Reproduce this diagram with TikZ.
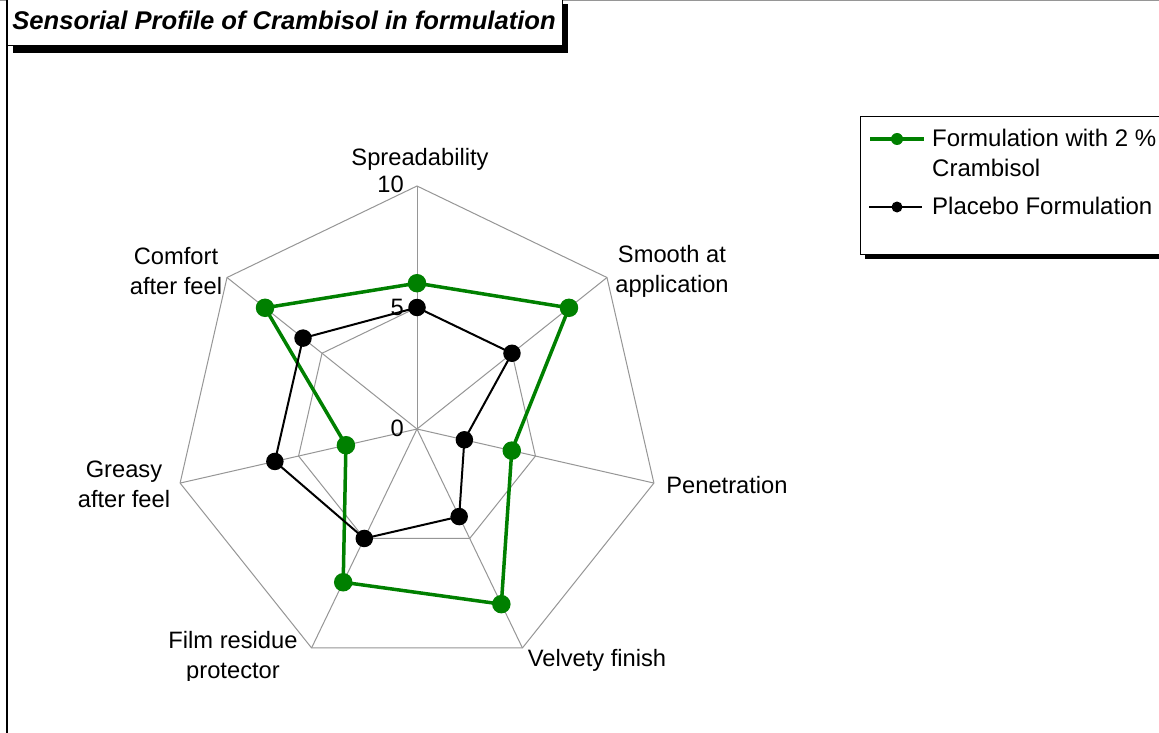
\documentclass[tikz,border=0pt]{standalone}
\usepackage{fontspec}
\setmainfont{Liberation Sans}
\definecolor{sgreen}{RGB}{0,128,0}
\definecolor{gridgray}{RGB}{150,150,150}
\begin{document}
\begin{tikzpicture}[x=1pt,y=-1pt,
  lbl/.style={font=\fontsize{23.7}{30}\selectfont, inner sep=0pt, align=center},
  leglbl/.style={font=\fontsize{24}{30}\selectfont, inner sep=0pt, align=left, anchor=west},
  gridline/.style={draw=gridgray, line width=1pt},
  gline/.style={draw=sgreen, line width=3.5pt, line join=round},
  bline/.style={draw=black, line width=2pt, line join=round},
  gdot/.style={circle, fill=sgreen, minimum size=18.5pt, inner sep=0pt},
  bdot/.style={circle, fill=black, minimum size=17.5pt, inner sep=0pt},
  lgdot/.style={circle, fill=sgreen, minimum size=12pt, inner sep=0pt},
  lbdot/.style={circle, fill=black, minimum size=11pt, inner sep=0pt},
]
\useasboundingbox (0,0) rectangle (1159,733);
\fill[white] (0,0) rectangle (1159,733);
% chart frame
\draw[gridgray, line width=1pt] (0,0.5) -- (1159,0.5);
\draw[black, line width=1.5pt] (7,0) -- (7,733);

% grid
\coordinate (c) at (417,429);
\foreach \k in {0,...,6} {
  \path (c) ++(\k*360/7-90:243) coordinate (a\k);
  \path (c) ++(\k*360/7-90:121.5) coordinate (h\k);
}
\foreach \k in {0,...,6} { \draw[gridline] (c) -- (a\k); }
\draw[gridline] (a0)--(a1)--(a2)--(a3)--(a4)--(a5)--(a6)--cycle;
\draw[gridline] (h0)--(h1)--(h2)--(h3)--(h4)--(h5)--(h6)--cycle;

% data
\foreach \v [count=\i from 0] in {6,8,4,8,7,3,8} {
  \path (c) ++(\i*360/7-90:\v*24.3) coordinate (g\i);
}
\foreach \v [count=\i from 0] in {5,5,2,4,5,6,6} {
  \path (c) ++(\i*360/7-90:\v*24.3) coordinate (b\i);
}
\draw[gline] (g0)--(g1)--(g2)--(g3)--(g4)--(g5)--(g6)--cycle;
\foreach \i in {0,...,6} { \node[gdot] (gd\i) at (g\i) {}; }
\draw[bline] (b0)--(b1)--(b2)--(b3)--(b4)--(b5)--(b6)--cycle;
\foreach \i in {0,...,6} { \node[bdot] (bd\i) at (b\i) {}; }

% scale labels
\node[lbl, anchor=base east] (s10) at (404,192) {10};
\node[lbl, anchor=base east] (s5) at (404,315) {5};
\node[lbl, anchor=base east] (s0) at (404,436) {0};

% axis labels
\node[lbl, anchor=base] (l0) at (420,165) {Spreadability};
\node[lbl] (l1) at (672,271) {Smooth at\\application};
\node[lbl, anchor=base] (l2) at (727,493) {Penetration};
\node[lbl, anchor=base] (l3) at (597,666) {Velvety finish};
\begin{scope}
\clip (0,0) rectangle (1159,680);
\node[lbl] (l4) at (233,657) {Film residue\\protector};
\end{scope}
\node[lbl] (l5) at (124,484) {Greasy\\after feel};
\node[lbl] (l6) at (176,271) {Comfort\\after feel};

% title
\fill[black] (13,4) rectangle (568,53);
\draw[black, line width=1pt, fill=white] (7,-2) rectangle (562,46);
\node[font=\fontsize{25.6}{28}\selectfont\bfseries\itshape, anchor=base, inner sep=0pt] (title) at (284,30) {Sensorial Profile of Crambisol in formulation};

% legend
\fill[black] (865,122) rectangle (1170,259);
\draw[black, line width=1pt, fill=white] (860,117) rectangle (1170,254);
\coordinate (lg1) at (870,139);
\coordinate (lg2) at (924,139);
\draw[sgreen, line width=3.5pt] (lg1) -- (lg2);
\node[lgdot] (lgd) at (897,139) {};
\node[leglbl] (lt1) at (932,153) {Formulation with 2 \%\\Crambisol};
\coordinate (lb1) at (869,207);
\coordinate (lb2) at (922,207);
\draw[black, line width=2pt] (lb1) -- (lb2);
\node[lbdot] (lbd) at (897,207) {};
\node[leglbl, anchor=base west] (lt2) at (932,214) {Placebo Formulation};
\end{tikzpicture}
\end{document}
